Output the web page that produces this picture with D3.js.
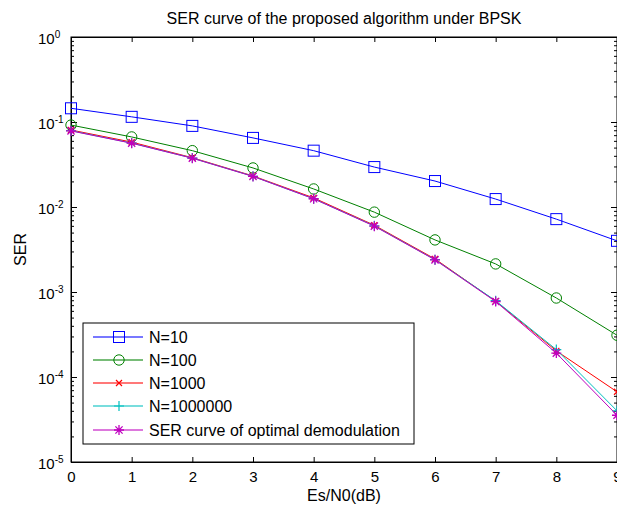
<!DOCTYPE html>
<html>
<head>
<meta charset="utf-8">
<script src="https://cdn.jsdelivr.net/npm/d3@7"></script>
<style>
  body { margin: 0; background: #fff; }
  svg { display: block; font-family: "Liberation Sans", Arial, sans-serif; }
</style>
</head>
<body>
<div id="chart"></div>
<script>
// data
var snr = [0, 1, 2, 3, 4, 5, 6, 7, 8, 9];
var serN10 = [0.145, 0.115, 0.09, 0.065, 0.046, 0.0295, 0.0202, 0.0124, 0.0072, 0.0040];
var serN100 = [0.092, 0.0667, 0.046, 0.0288, 0.0163, 0.0087, 0.0041, 0.00214, 0.00085, 0.00031];
var serN1000 = [0.0805, 0.058, 0.038, 0.0232, 0.0128, 0.0061, 0.00245, 0.00078, 0.000203, 0.000067];
var serN1e6 = [0.079, 0.0565, 0.0376, 0.023, 0.0125, 0.006, 0.0024, 0.00079, 0.00021, 0.00004];
var serOpt = [0.0786, 0.0563, 0.0375, 0.0229, 0.0125, 0.00595, 0.00239, 0.000773, 0.000191, 0.0000355];
var seriesNames = ["N=10", "N=100", "N=1000", "N=1000000", "SER curve of optimal demodulation"];
var xTicks = [0, 1, 2, 3, 4, 5, 6, 7, 8, 9];
var yTicks = [1e-5, 1e-4, 1e-3, 1e-2, 1e-1, 1];

var svgWidth = 617;
var svgHeight = 508;
var margin = { top: 37, right: 0, bottom: 46, left: 71 };
var width = svgWidth - margin.left - margin.right;
var height = svgHeight - margin.top - margin.bottom;

var svg = d3.select("#chart")
    .append("svg")
    .attr("width", svgWidth)
    .attr("height", svgHeight);

var chartGroup = svg.append("g")
    .attr("transform", `translate(${margin.left}, ${margin.top})`);

var xScale = d3.scaleLinear().domain([0, 9]).range([0, width]);
var yScale = d3.scaleLog().domain([1e-5, 1]).range([height, 0]);

// minor log ticks
var minor = [];
yTicks.slice(0, -1).forEach(function(d) {
    for (var k = 2; k <= 9; k++) minor.push(d * k);
});

// frame
chartGroup.append("rect")
    .attr("width", width).attr("height", height)
    .attr("fill", "none").attr("stroke", "#000").attr("stroke-width", 1);

// bottom axis (ticks inward)
var bottom = chartGroup.append("g")
    .attr("transform", `translate(0, ${height})`)
    .call(d3.axisBottom(xScale).tickValues(xTicks).tickSize(-5).tickPadding(9));
bottom.selectAll("text").attr("font-size", "15px").attr("fill", "#000");

// top axis ticks
chartGroup.append("g")
    .call(d3.axisTop(xScale).tickValues(xTicks).tickSize(-5).tickFormat(""));

// left axis major, labels as 10 with superscript exponent
var left = chartGroup.append("g")
    .call(d3.axisLeft(yScale).tickValues(yTicks).tickSize(-6).tickFormat(""));
left.selectAll(".tick text").each(function(d) {
    var t = d3.select(this)
        .attr("x", -33).attr("dy", "0.4em")
        .attr("text-anchor", "start")
        .attr("font-size", "15px").attr("fill", "#000");
    t.append("tspan").text("10");
    t.append("tspan").attr("dy", "-0.55em").attr("font-size", "10px").text(Math.round(Math.log10(d)));
});

// left minor
chartGroup.append("g")
    .call(d3.axisLeft(yScale).tickValues(minor).tickSize(-3).tickFormat(""));

// right axis major + minor
chartGroup.append("g")
    .attr("transform", `translate(${width}, 0)`)
    .call(d3.axisRight(yScale).tickValues(yTicks).tickSize(-6).tickFormat(""));
chartGroup.append("g")
    .attr("transform", `translate(${width}, 0)`)
    .call(d3.axisRight(yScale).tickValues(minor).tickSize(-3).tickFormat(""));

chartGroup.selectAll(".domain").attr("stroke", "#000");
chartGroup.selectAll(".tick line").attr("stroke", "#000");

// series
var series = [
    { name: seriesNames[0], values: serN10, color: "#0000ff", marker: "square" },
    { name: seriesNames[1], values: serN100, color: "#008000", marker: "circle" },
    { name: seriesNames[2], values: serN1000, color: "#ff0000", marker: "x" },
    { name: seriesNames[3], values: serN1e6, color: "#00bfbf", marker: "plus" },
    { name: seriesNames[4], values: serOpt, color: "#bf00bf", marker: "star" }
];

var line = d3.line()
    .x(function(d, i) { return xScale(snr[i]); })
    .y(function(d) { return yScale(d); });

function drawMarker(g, type, color) {
    if (type === "square") {
        g.append("rect").attr("x", -5.5).attr("y", -5.5).attr("width", 11).attr("height", 11)
            .attr("fill", "none").attr("stroke", color);
    } else if (type === "circle") {
        g.append("circle").attr("r", 5.2).attr("fill", "none").attr("stroke", color);
    } else if (type === "x") {
        g.append("path").attr("d", "M-3,-3L3,3M-3,3L3,-3").attr("stroke", color).attr("stroke-width", 1.2);
    } else if (type === "plus") {
        g.append("path").attr("d", "M-5,0L5,0M0,-5L0,5").attr("stroke", color).attr("stroke-width", 1.2);
    } else if (type === "star") {
        g.append("path").attr("d", "M-5,0L5,0M0,-5L0,5M-3.6,-3.6L3.6,3.6M-3.6,3.6L3.6,-3.6")
            .attr("stroke", color).attr("stroke-width", 1.3);
    }
}

series.forEach(function(s) {
    chartGroup.append("path")
        .datum(s.values)
        .attr("fill", "none")
        .attr("stroke", s.color)
        .attr("stroke-width", 1)
        .attr("d", line);

    chartGroup.selectAll(null)
        .data(s.values)
        .enter()
        .append("g")
        .attr("transform", function(d, i) { return `translate(${xScale(snr[i])}, ${yScale(d)})`; })
        .each(function() { drawMarker(d3.select(this), s.marker, s.color); });
});

// legend
var legend = svg.append("g").attr("transform", "translate(83, 323)");
legend.append("rect")
    .attr("width", 331).attr("height", 121)
    .attr("fill", "#fff").attr("stroke", "#000").attr("stroke-width", 1);

var legendY = [14, 37, 60, 83, 107];
series.forEach(function(s, i) {
    var row = legend.append("g").attr("transform", `translate(0, ${legendY[i]})`);
    row.append("line").attr("x1", 10).attr("x2", 60)
        .attr("stroke", s.color).attr("stroke-width", 1.5).attr("opacity", 0.7);
    var m = row.append("g").attr("transform", "translate(36, 0)");
    drawMarker(m, s.marker, s.color);
    row.append("text").attr("x", 66).attr("dy", "0.36em")
        .attr("font-size", "16px").attr("fill", "#000").text(s.name);
});

// title and labels
svg.append("text")
    .attr("x", margin.left + width / 2).attr("y", 24)
    .attr("text-anchor", "middle").attr("font-size", "16px")
    .text("SER curve of the proposed algorithm under BPSK");

svg.append("text")
    .attr("x", margin.left + width / 2).attr("y", 501)
    .attr("text-anchor", "middle").attr("font-size", "16px")
    .text("Es/N0(dB)");

svg.append("text")
    .attr("transform", `translate(26, ${margin.top + height / 2}) rotate(-90)`)
    .attr("text-anchor", "middle").attr("font-size", "16px")
    .text("SER");
</script>
</body>
</html>
